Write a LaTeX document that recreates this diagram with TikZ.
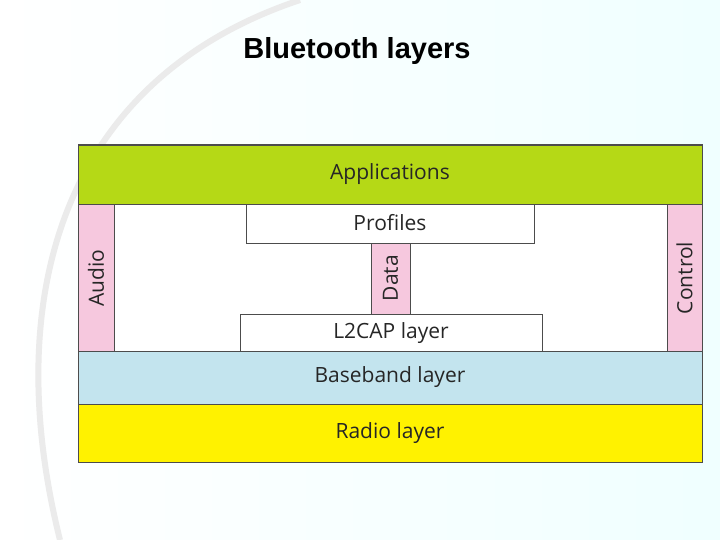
\documentclass[tikz,border=0pt]{standalone}
\usepackage{fontspec}
\setmainfont{Open Sans}
\newfontfamily\titlefont{Liberation Sans}
\definecolor{appgreen}{HTML}{B5D916}
\definecolor{pinkbar}{HTML}{F6C8DE}
\definecolor{baseblue}{HTML}{C3E4EE}
\definecolor{radioyel}{HTML}{FFF200}
\begin{document}
\begin{tikzpicture}[x=1pt,y=-1pt,
  box/.style={draw=black!70,line width=0.8pt},
  lbl/.style={font=\fontsize{21}{24}\selectfont,text=black!85}]
\useasboundingbox (0,0) rectangle (720,540);
\fill[left color=white,right color=cyan!6] (0,0) rectangle (720,540);
\draw[black!8,line width=6pt] (60,540) .. controls (0,300) and (60,80) .. (300,0);
\node[font=\titlefont\bfseries\fontsize{29}{32}\selectfont] (title) at (357,51) {Bluetooth layers};
\fill[white] (78,145) rectangle (702,462);
\draw[box,fill=appgreen] (78,145) rectangle (702,204);
\node[lbl] (app) at (390,174) {Applications};
\draw[box,fill=pinkbar] (78,204) rectangle (114,351);
\node[lbl,rotate=90] (audio) at (96,278) {Audio};
\draw[box,fill=pinkbar] (667,204) rectangle (702,351);
\node[lbl,rotate=90] (ctrl) at (684.5,278) {Control};
\draw[box,fill=white] (246,204) rectangle (534,243);
\node[lbl] (prof) at (390,223) {Profiles};
\draw[box,fill=pinkbar] (371,243) rectangle (410,314);
\node[lbl,rotate=90] (data) at (390.5,278) {Data};
\draw[box,fill=white] (240,314) rectangle (542,351);
\node[lbl] (l2) at (391,333) {L2CAP layer};
\draw[box,fill=baseblue] (78,351) rectangle (702,404);
\node[lbl] (bb) at (390,377) {Baseband layer};
\draw[box,fill=radioyel] (78,404) rectangle (702,462);
\node[lbl] (radio) at (390,433) {Radio layer};
\draw[box,line width=1pt] (78,145) rectangle (702,462);
\end{tikzpicture}
\end{document}
